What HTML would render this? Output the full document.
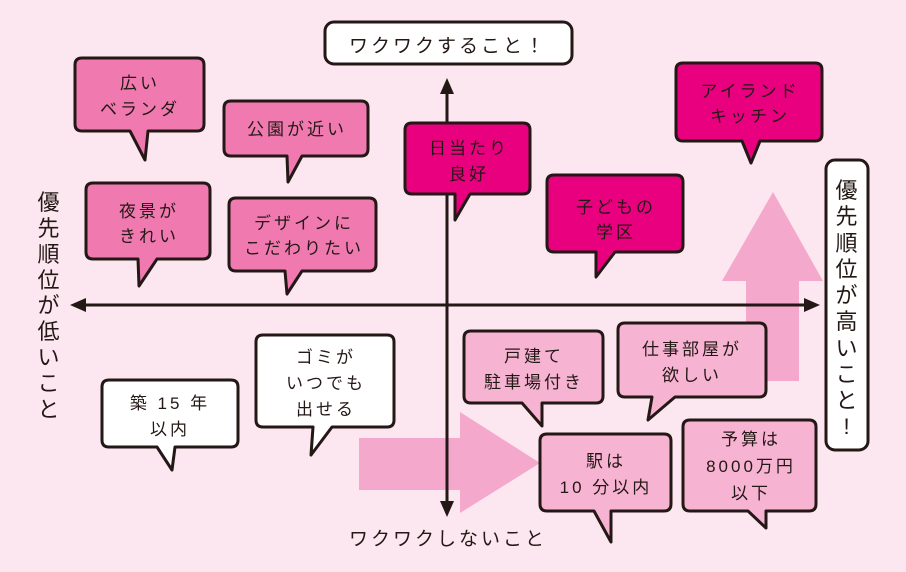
<!DOCTYPE html>
<html><head><meta charset="utf-8"><style>
html,body{margin:0;padding:0;background:#fce6f0;}
svg{display:block}
text{font-family:"Liberation Sans","Noto Sans CJK JP",sans-serif;fill:#231815;text-anchor:middle;letter-spacing:3px}
.b{stroke:#231815;stroke-width:3;stroke-linejoin:round}
</style></head><body>
<svg width="906" height="572" viewBox="0 0 906 572" xmlns="http://www.w3.org/2000/svg">
<rect width="906" height="572" fill="#fce6f0"/>
<polygon points="359,438 460,438 460,412 540,463 460,513 460,490 359,490" fill="#f4a8cc"/>
<polygon points="746,381 746,281 722,281 773,192 823,281 799,281 799,381" fill="#f4a8cc"/>
<line x1="447" y1="90" x2="447" y2="505" stroke="#231815" stroke-width="3"/>
<polygon points="447,78 440,94 454,94" fill="#231815"/>
<polygon points="447,517 440,501 454,501" fill="#231815"/>
<line x1="80" y1="305" x2="810" y2="305" stroke="#231815" stroke-width="3"/>
<polygon points="70,305 86,298 86,312" fill="#231815"/>
<polygon points="820,305 804,298 804,312" fill="#231815"/>
<rect x="325" y="22" width="247" height="42" rx="9" fill="#fff" class="b"/>
<text x="448" y="52" font-size="19">ワクワクすること！</text>
<rect x="826" y="160" width="42" height="290" rx="9" fill="#fff" class="b"/>
<g font-size="22" style="letter-spacing:0">
<text x="848" y="198">優</text><text x="848" y="224">先</text><text x="848" y="251">順</text><text x="848" y="277">位</text><text x="848" y="303">が</text><text x="848" y="329">高</text><text x="848" y="356">い</text><text x="848" y="382">こ</text><text x="848" y="408">と</text><text x="848" y="434">!</text>
</g>
<g font-size="22" style="letter-spacing:0">
<text x="50" y="210">優</text><text x="50" y="236">先</text><text x="50" y="262">順</text><text x="50" y="288">位</text><text x="50" y="313">が</text><text x="50" y="339">低</text><text x="50" y="365">い</text><text x="50" y="391">こ</text><text x="50" y="417">と</text>
</g>
<text x="448" y="545" font-size="19">ワクワクしないこと</text>

<g font-size="17">
<path class="b" fill="#f07ab0" d="M82,58 H197 Q204,58 204,65 V124 Q204,131 197,131 H148 L145,160 L130,131 H82 Q75,131 75,124 V65 Q75,58 82,58 Z"/>
<text x="140" y="89">広い</text><text x="140" y="115">ベランダ</text>
<path class="b" fill="#f07ab0" d="M231,101 H361 Q368,101 368,108 V149 Q368,156 361,156 H302 L288,182 L287,156 H231 Q224,156 224,149 V108 Q224,101 231,101 Z"/>
<text x="297" y="135">公園が近い</text>
<path class="b" fill="#f07ab0" d="M93,183 H203 Q210,183 210,190 V252 Q210,259 203,259 H157 L139,286 L138,259 H93 Q86,259 86,252 V190 Q86,183 93,183 Z"/>
<text x="149" y="217">夜景が</text><text x="149" y="242">きれい</text>
<path class="b" fill="#f07ab0" d="M236,198 H369 Q376,198 376,205 V264 Q376,271 369,271 H302 L287,294 L285,271 H236 Q229,271 229,264 V205 Q229,198 236,198 Z"/>
<text x="304" y="229">デザインに</text><text x="304" y="254">こだわりたい</text>
<path class="b" fill="#e8007f" d="M412,123 H523 Q530,123 530,130 V187 Q530,194 523,194 H470 L455,220 L455,194 H412 Q405,194 405,187 V130 Q405,123 412,123 Z"/>
<text x="469" y="154">日当たり</text><text x="469" y="180">良好</text>
<path class="b" fill="#e8007f" d="M554,175 H676 Q683,175 683,182 V245 Q683,252 676,252 H615 L596,277 L596,252 H554 Q547,252 547,245 V182 Q547,175 554,175 Z"/>
<text x="616" y="213">子どもの</text><text x="616" y="238">学区</text>
<path class="b" fill="#e8007f" d="M683,63 H815 Q822,63 822,70 V134 Q822,141 815,141 H760 L751,163 L742,141 H683 Q676,141 676,134 V70 Q676,63 683,63 Z"/>
<text x="750" y="97">アイランド</text><text x="750" y="122">キッチン</text>
<path class="b" fill="#fff" d="M263,335 H387 Q394,335 394,342 V420 Q394,427 387,427 H332 L311,455 L313,427 H263 Q256,427 256,420 V342 Q256,335 263,335 Z"/>
<text x="326" y="363">ゴミが</text><text x="326" y="389">いつでも</text><text x="326" y="415">出せる</text>
<path class="b" fill="#fff" d="M109,380 H231 Q238,380 238,387 V440 Q238,447 231,447 H175 L172,470 L157,447 H109 Q102,447 102,440 V387 Q102,380 109,380 Z"/>
<text x="170" y="409">築 15 年</text><text x="170" y="435">以内</text>
<path class="b" fill="#f7b4d2" d="M471,331 H596 Q603,331 603,338 V396 Q603,403 596,403 H542 L542,426 L522,403 H471 Q464,403 464,396 V338 Q464,331 471,331 Z"/>
<text x="534" y="362">戸建て</text><text x="534" y="388">駐車場付き</text>
<path class="b" fill="#f7b4d2" d="M625,323 H759 Q766,323 766,330 V390 Q766,397 759,397 H675 L648,420 L652,397 H625 Q618,397 618,390 V330 Q618,323 625,323 Z"/>
<text x="692" y="355">仕事部屋が</text><text x="692" y="381">欲しい</text>
<path class="b" fill="#f7b4d2" d="M547,434 H664 Q671,434 671,441 V504 Q671,511 664,511 H611 L611,542 L594,511 H547 Q540,511 540,504 V441 Q540,434 547,434 Z"/>
<text x="606" y="467">駅は</text><text x="606" y="493">10 分以内</text>
<path class="b" fill="#f7b4d2" d="M690,420 H809 Q816,420 816,427 V504 Q816,511 809,511 H766 L766,528 L748,511 H690 Q683,511 683,504 V427 Q683,420 690,420 Z"/>
<text x="751" y="445">予算は</text><text x="751" y="472">8000万円</text><text x="751" y="499">以下</text>
</g>
</svg>
</body></html>
